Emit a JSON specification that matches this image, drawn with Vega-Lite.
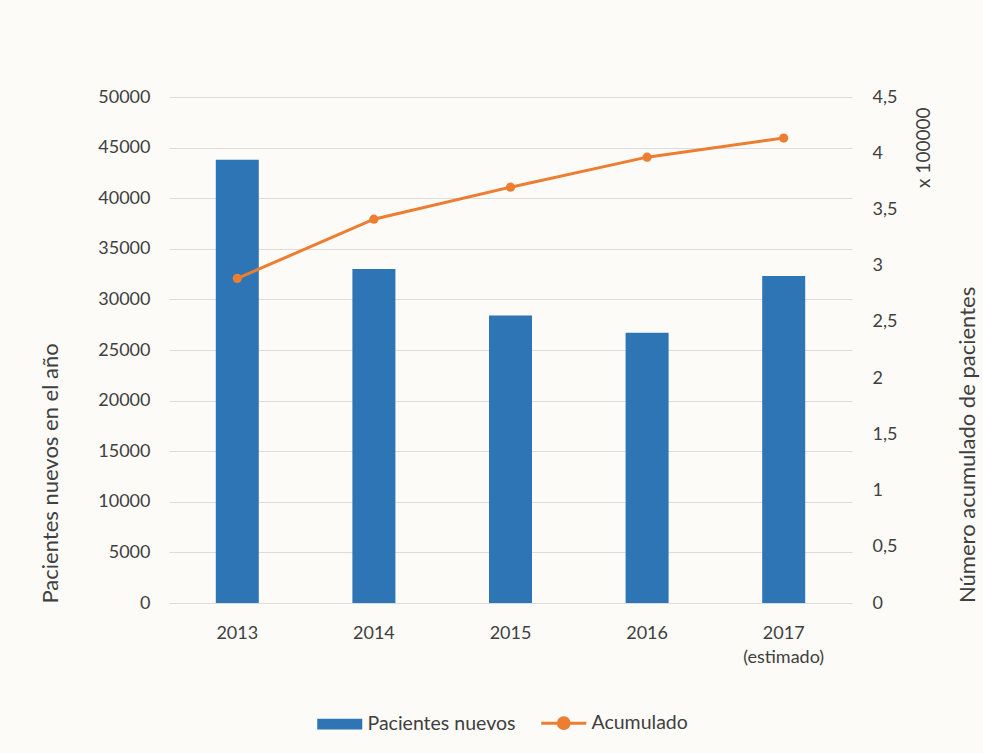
{
  "$schema": "https://vega.github.io/schema/vega-lite/v6.json",
  "autosize": "none",
  "width": 683,
  "height": 506,
  "padding": {"left": 169, "top": 97, "right": 131, "bottom": 150},
  "background": "#fdfbf8",
  "config": {
    "view": {"stroke": null},
    "font": "Lato",
    "axis": {"labelFont": "Lato", "titleFont": "Lato", "labelColor": "#404040", "titleColor": "#404040", "labelFontSize": 18, "titleFontSize": 22, "titleFontWeight": "normal", "ticks": false, "domain": false},
    "legend": {"labelFont": "Lato", "labelFontSize": 19.5, "labelColor": "#404040"},
    "title": {"font": "Lato", "fontSize": 22, "fontWeight": "normal", "color": "#404040"}
  },
  "title": {
    "text": "Número acumulado de pacientes",
    "orient": "right",
    "anchor": "end",
    "frame": "group",
    "angle": 270,
    "align": "left",
    "baseline": "top",
    "offset": 2
  },
  "data": {
    "values": [
      {"anio": "2013", "nuevos": 43800, "acumulado": 2.887},
      {"anio": "2014", "nuevos": 33000, "acumulado": 3.413},
      {"anio": "2015", "nuevos": 28400, "acumulado": 3.698},
      {"anio": "2016", "nuevos": 26700, "acumulado": 3.965},
      {"anio": "2017 (estimado)", "nuevos": 32300, "acumulado": 4.135}
    ]
  },
  "encoding": {
    "x": {
      "field": "anio",
      "type": "ordinal",
      "sort": null,
      "scale": {"paddingInner": 0, "paddingOuter": 0},
      "axis": {
        "title": null,
        "labelAngle": 0,
        "labelPadding": 21,
        "labelExpr": "datum.value == '2017 (estimado)' ? ['2017', '(estimado)'] : datum.label",
        "labelLineHeight": 24
      }
    }
  },
  "layer": [
    {
      "mark": {"type": "bar", "size": 43},
      "encoding": {
        "y": {
          "field": "nuevos",
          "type": "quantitative",
          "scale": {"domain": [0, 50000]},
          "axis": {
            "title": "Pacientes nuevos en el año",
            "titleAnchor": "start",
            "values": [0, 5000, 10000, 15000, 20000, 25000, 30000, 35000, 40000, 45000, 50000],
            "format": "d",
            "labelPadding": 19,
            "titlePadding": 35,
            "grid": true,
            "gridColor": "#dcdcdc",
            "gridWidth": 1
          }
        },
        "color": {
          "datum": "Pacientes nuevos",
          "scale": {"domain": ["Pacientes nuevos", "Acumulado"], "range": ["#2E75B6", "#ED7D31"]},
          "legend": {
            "title": null,
            "orient": "none",
            "direction": "horizontal",
            "legendX": 161,
            "legendY": 616,
            "symbolSize": 2025,
            "symbolStrokeWidth": 3,
            "labelOffset": 18,
            "columnPadding": 19,
            "encode": {
              "symbols": {
                "update": {
                  "shape": {"signal": "datum.value === 'Acumulado' ? 'M-1,0H1M0.24,0A0.24,0.24 0 1,1 -0.24,0A0.24,0.24 0 1,1 0.24,0Z' : 'M-1,-0.24H1V0.24H-1Z'"},
                  "fill": {"signal": "datum.value === 'Acumulado' ? '#ED7D31' : '#2E75B6'"},
                  "stroke": {"signal": "datum.value === 'Acumulado' ? '#ED7D31' : '#2E75B6'"},
                  "strokeWidth": {"signal": "datum.value === 'Acumulado' ? 3 : 0"},
                  "opacity": {"value": 1}
                }
              }
            }
          }
        }
      }
    },
    {
      "mark": {"type": "line", "strokeWidth": 3, "point": {"filled": true, "size": 85, "color": "#ED7D31"}},
      "encoding": {
        "y": {
          "field": "acumulado",
          "type": "quantitative",
          "scale": {"domain": [0, 4.5]},
          "axis": {
            "orient": "right",
            "title": "x 100000",
            "titleFontSize": 19,
            "titleAnchor": "end",
            "titleAngle": 270,
            "titleAlign": "right",
            "titleY": 10,
            "titlePadding": 37,
            "values": [0, 0.5, 1, 1.5, 2, 2.5, 3, 3.5, 4, 4.5],
            "labelExpr": "replace(format(datum.value, '~g'), '.', ',')",
            "labelPadding": 20,
            "grid": false
          }
        },
        "color": {"datum": "Acumulado"}
      }
    }
  ],
  "resolve": {"scale": {"y": "independent"}}
}
